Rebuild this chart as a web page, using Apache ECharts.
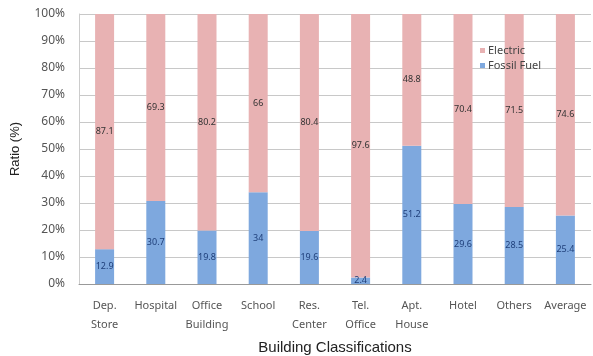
<!DOCTYPE html>
<html>
<head>
<meta charset="utf-8">
<script src="https://cdn.jsdelivr.net/npm/echarts@6/dist/echarts.min.js"></script>
<style>
  html, body { margin: 0; padding: 0; background: #fff; }
  #chart { width: 593px; height: 356px; }
</style>
</head>
<body>
<div id="chart"></div>
<script>
// Energy source share by building type
const categories = ['Dep.\nStore', 'Hospital', 'Office\nBuilding', 'School', 'Res.\nCenter',
                    'Tel.\nOffice', 'Apt.\nHouse', 'Hotel', 'Others', 'Average'];
const fossilFuel = [12.9, 30.7, 19.8, 34, 19.6, 2.4, 51.2, 29.6, 28.5, 25.4];
const electric   = [87.1, 69.3, 80.2, 66, 80.4, 97.6, 48.8, 70.4, 71.5, 74.6];

const chart = echarts.init(document.getElementById('chart'), null, { renderer: 'canvas' });

const font = 'Noto Sans';

chart.setOption({
  animation: false,
  backgroundColor: '#ffffff',
  grid: { left: 79, right: 2, top: 14, bottom: 72, outerBoundsMode: 'none', containLabel: false },
  legend: {
    left: 475, top: 40,
    orient: 'vertical',
    icon: 'rect',
    itemWidth: 5, itemHeight: 5, itemGap: 4,
    textStyle: { fontFamily: font, fontSize: 11, color: '#444', lineHeight: 11, padding: [0, 0, 0, -2] },
    data: ['Electric', 'Fossil Fuel']
  },
  xAxis: {
    type: 'category',
    data: categories,
    name: 'Building Classifications',
    nameLocation: 'middle',
    nameGap: 56,
    nameTextStyle: { fontFamily: 'Liberation Sans', fontSize: 15, color: '#222' },
    axisLine: { lineStyle: { color: '#999' } },
    axisTick: { show: false },
    axisLabel: { fontFamily: font, fontSize: 11, color: '#555', lineHeight: 19, margin: 12, interval: 0 }
  },
  yAxis: {
    type: 'value',
    min: 0, max: 100, interval: 10,
    name: 'Ratio (%)',
    nameLocation: 'middle',
    nameGap: 57,
    nameTextStyle: { fontFamily: 'Liberation Sans', fontSize: 13, color: '#222' },
    axisLine: { show: true, lineStyle: { color: '#ccc' } },
    axisTick: { show: false },
    axisLabel: { fontFamily: font, fontSize: 12, color: '#555', margin: 14, formatter: v => v + '%' },
    splitLine: { lineStyle: { color: '#c8c8c8' } }
  },
  series: [
    {
      name: 'Fossil Fuel',
      type: 'bar',
      stack: 'total',
      barWidth: 19,
      data: fossilFuel,
      itemStyle: { color: '#7ea8de' },
      label: { show: true, position: 'inside', fontFamily: font, fontSize: 9, color: '#1f3f7a' }
    },
    {
      name: 'Electric',
      type: 'bar',
      stack: 'total',
      barWidth: 19,
      data: electric,
      itemStyle: { color: '#e8b2b3' },
      label: { show: true, position: 'inside', fontFamily: font, fontSize: 9, color: '#333' }
    }
  ]
});
</script>
</body>
</html>
